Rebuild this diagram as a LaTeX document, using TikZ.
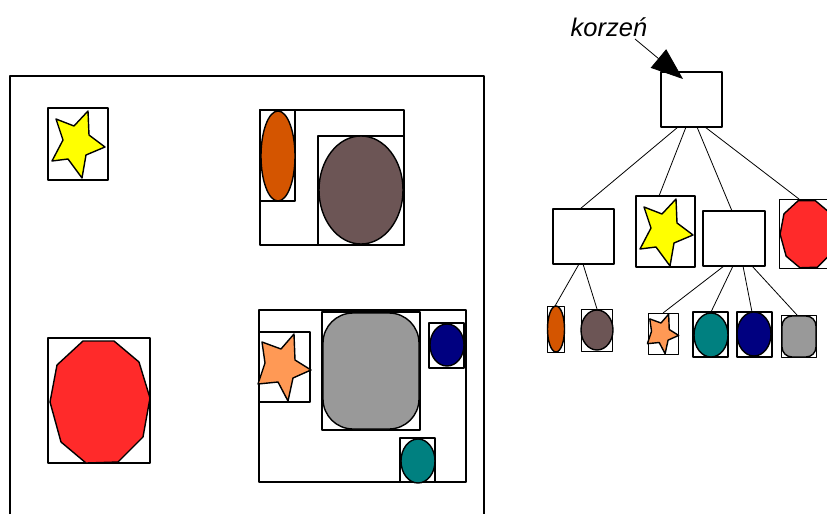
\documentclass[tikz,border=0pt]{standalone}
\usepackage{fontspec}
\setmainfont{Liberation Sans}
\usetikzlibrary{arrows.meta}
\definecolor{cyel}{HTML}{FFFF00}
\definecolor{corg}{HTML}{D45500}
\definecolor{cbrn}{HTML}{6C5555}
\definecolor{cred}{HTML}{FF2A2A}
\definecolor{cstar}{HTML}{FF9955}
\definecolor{cgry}{HTML}{999999}
\definecolor{cnavy}{HTML}{000080}
\definecolor{cteal}{HTML}{008080}
\newcommand\yelstar{(40,3)--(26,18)--(8,11)--(15,32)--(4,53)--(20,51)--(34,70)--(38,47)--(57,39)--(41,27)--cycle}
\newcommand\orgstar{(35,2)--(22,17)--(3,10)--(6,31)--(-1,52)--(19,50)--(29,69)--(34,46)--(52,38)--(36,28)--cycle}
\newcommand\reddeca{(35,3)--(66,3)--(91,24)--(102,60)--(95,99)--(70,124)--(38,125)--(13,104)--(2,64)--(9,27)--cycle}
\begin{document}
\begin{tikzpicture}[x=1pt,y=-1pt,line join=round,
  frame/.style={line width=1.6pt},
  lbox/.style={line width=1.6pt},
  shp/.style={draw,line width=1.4pt},
  tbox/.style={draw,line width=1.8pt,inner sep=0pt,outer sep=0pt,anchor=north west},
  tthin/.style={draw,line width=0.8pt,inner sep=0pt,outer sep=0pt,anchor=north west},
  tedge/.style={line width=0.8pt}]
\useasboundingbox (0,0) rectangle (827,514);
% ---------- left scene ----------
\draw[frame] (10,514) -- (10,76) -- (484,76) -- (484,514);
% yellow star
\draw[lbox] (48,108) rectangle (108,180);
\begin{scope}[shift={(48,108)}]
  \draw[shp,fill=cyel] \yelstar;
\end{scope}
% top right group
\draw[lbox] (260,110) rectangle (404,245);
\draw[lbox] (260,110) rectangle (295,201);
\draw[shp,fill=corg] (278,156) ellipse [x radius=17,y radius=45];
\draw[lbox] (318,136) rectangle (404,245);
\draw[shp,fill=cbrn] (361,190) ellipse [x radius=42,y radius=54];
% red decagon
\draw[lbox] (48,338) rectangle (150,463);
\begin{scope}[shift={(48,338)}]
  \draw[shp,fill=cred] \reddeca;
\end{scope}
% bottom right group
\draw[lbox] (259,310) rectangle (466,482);
\draw[lbox] (259,332) rectangle (310,402);
\begin{scope}[shift={(259,332)}]
  \draw[shp,fill=cstar] \orgstar;
\end{scope}
\draw[lbox] (322,312) rectangle (420,430);
\draw[shp,fill=cgry,rounded corners=30pt] (323,313) rectangle (419,429);
\draw[lbox] (429,323) rectangle (464,368);
\draw[shp,fill=cnavy] (447,345) ellipse [x radius=17,y radius=21];
\draw[lbox] (400,438) rectangle (435,482);
\draw[shp,fill=cteal] (418,461) ellipse [x radius=17,y radius=22];
% ---------- tree ----------
\node[font=\fontsize{25.5}{30}\selectfont\itshape] (lbl) at (609,27) {korzeń};
\node[tbox,minimum width=61pt,minimum height=55pt] (root) at (661,72) {};
\node[tbox,minimum width=61pt,minimum height=55pt] (A) at (553,209) {};
\node[tbox,minimum width=59pt,minimum height=71pt] (S) at (636,196) {};
\node[tbox,minimum width=62pt,minimum height=55pt] (B) at (703,211) {};
\node[tthin,minimum width=56pt,minimum height=69pt] (R) at (779,199) {};
\node[tthin,minimum width=17pt,minimum height=46pt] (l1) at (547,306) {};
\node[tthin,minimum width=31pt,minimum height=42pt] (l2) at (581,309) {};
\node[tthin,minimum width=30pt,minimum height=41pt] (l3) at (648,313) {};
\node[tbox,minimum width=35pt,minimum height=45pt] (l4) at (693,312) {};
\node[tbox,minimum width=35pt,minimum height=45pt] (l5) at (737,312) {};
\node[tthin,minimum width=35pt,minimum height=42pt] (l6) at (781,315) {};
\coordinate (astart) at (635,39);
\coordinate (atip) at (683,79);
\draw[line width=0.8pt,-{Triangle[length=32pt,width=24pt]}] (astart) -- (atip);
% contents
\begin{scope}[shift={(636,196)}]
  \draw[shp,fill=cyel] \yelstar;
\end{scope}
\begin{scope}[shift={(779,199)},scale=0.55]
  \draw[shp,fill=cred] \reddeca;
\end{scope}
\draw[shp,fill=corg] (556,329) ellipse [x radius=8.5,y radius=23];
\draw[shp,fill=cbrn] (597,330) ellipse [x radius=16,y radius=20];
\begin{scope}[shift={(648,313)},scale=0.59]
  \draw[shp,fill=cstar] \orgstar;
\end{scope}
\draw[shp,fill=cteal] (711,335) ellipse [x radius=17,y radius=22];
\draw[shp,fill=cnavy] (754,334) ellipse [x radius=17,y radius=22];
\draw[shp,fill=cgry,rounded corners=10pt] (782,316) rectangle (816,357);
% edges
\draw[tedge] ([xshift=17pt]root.south west) -- ([xshift=27pt]A.north west);
\draw[tedge] ([xshift=25pt]root.south west) -- ([xshift=23pt]S.north west);
\draw[tedge] ([xshift=36pt]root.south west) -- ([xshift=29pt]B.north west);
\draw[tedge] ([xshift=44pt]root.south west) -- ([xshift=20pt]R.north west);
\draw[tedge] ([xshift=26pt]A.south west) -- ([xshift=8pt]l1.north west);
\draw[tedge] ([xshift=30pt]A.south west) -- ([xshift=16pt]l2.north west);
\draw[tedge] ([xshift=21pt]B.south west) -- ([xshift=15pt]l3.north west);
\draw[tedge] ([xshift=30pt]B.south west) -- ([xshift=18pt]l4.north west);
\draw[tedge] ([xshift=40pt]B.south west) -- ([xshift=15pt]l5.north west);
\draw[tedge] ([xshift=49pt]B.south west) -- ([xshift=16pt]l6.north west);
\end{tikzpicture}
\end{document}
